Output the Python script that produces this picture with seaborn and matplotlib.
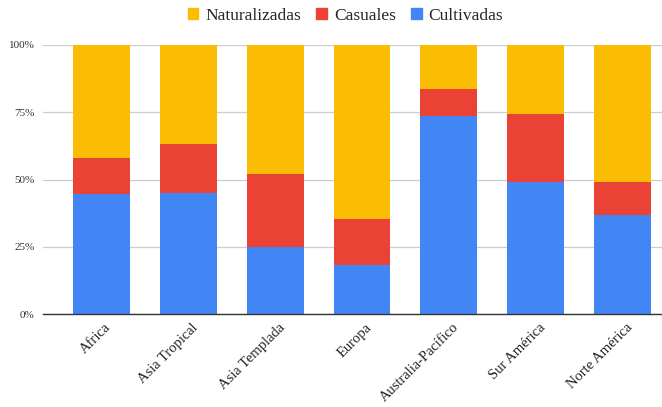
import matplotlib
matplotlib.use("Agg")
import matplotlib.pyplot as plt
import matplotlib.patches as mpatches
import matplotlib.transforms as mtransforms
import numpy as np
import pandas as pd
import seaborn as sns

regions = ["Africa", "Asia Tropical", "Asia Templada", "Europa",
           "Australia-Pacífico", "Sur América", "Norte América"]
cultivadas = [44.7, 45.1, 24.8, 18.3, 73.5, 48.9, 36.7]
casuales = [13.4, 18.2, 27.4, 17.0, 10.1, 25.6, 12.5]
naturalizadas = [41.9, 36.7, 47.8, 64.7, 16.4, 25.5, 50.8]

COLORS = {"Naturalizadas": "#FBBC04", "Casuales": "#EA4335", "Cultivadas": "#4285F4"}

sns.set_theme(style="white")
plt.rcParams["font.family"] = ["Liberation Serif", "DejaVu Serif"]

df = pd.DataFrame({
    "region": regions,
    "Cultivadas": cultivadas,
    "Casuales": casuales,
    "Naturalizadas": naturalizadas,
})
df["cas_top"] = df["Cultivadas"] + df["Casuales"]
df["nat_top"] = df["cas_top"] + df["Naturalizadas"]

fig = plt.figure(figsize=(6.62, 4.07), dpi=100)
ax = fig.add_axes([43 / 662, 1 - 314 / 407, 1 - 43 / 662, (314 - 45) / 407])

width = 0.655
sns.barplot(data=df, x="region", y="nat_top", color=COLORS["Naturalizadas"],
            width=width, saturation=1, ax=ax, zorder=3, linewidth=0)
sns.barplot(data=df, x="region", y="cas_top", color=COLORS["Casuales"],
            width=width, saturation=1, ax=ax, zorder=3, linewidth=0)
sns.barplot(data=df, x="region", y="Cultivadas", color=COLORS["Cultivadas"],
            width=width, saturation=1, ax=ax, zorder=3, linewidth=0)

ax.set_xlim(-0.674, 6.455)
ax.set_ylim(0, 100)
ax.set_yticks([0, 25, 50, 75, 100])
ax.set_yticklabels(["0%", "25%", "50%", "75%", "100%"], fontsize=8, color="#333333")
ax.yaxis.grid(True, color="#cccccc", linewidth=0.9, zorder=0)
ax.set_axisbelow(True)
ax.tick_params(axis="y", length=0, pad=6)
ax.tick_params(axis="x", length=0, pad=5)
ax.set_xlabel("")
ax.set_ylabel("")
shift = mtransforms.ScaledTranslation(3 / 100, 0, fig.dpi_scale_trans)
for lbl in ax.get_xticklabels():
    lbl.set_rotation(45)
    lbl.set_ha("right")
    lbl.set_rotation_mode("anchor")
    lbl.set_fontsize(10.5)
    lbl.set_color("#222222")
    lbl.set_transform(lbl.get_transform() + shift)
for side in ["left", "right", "top"]:
    ax.spines[side].set_visible(False)
ax.spines["bottom"].set_color("#333333")
ax.spines["bottom"].set_linewidth(1.0)
ax.spines["bottom"].set_zorder(4)

handles = [mpatches.Patch(color=COLORS[k], label=k)
           for k in ["Naturalizadas", "Casuales", "Cultivadas"]]
fig.legend(handles=handles, loc="center", bbox_to_anchor=(345.5 / 662, 1 - 16 / 407), ncol=3,
           frameon=False, fontsize=12.5, handlelength=0.6, handleheight=0.6,
           handletextpad=0.4, columnspacing=0.9, borderaxespad=0, borderpad=0)

fig.savefig("out.png", dpi=100)
